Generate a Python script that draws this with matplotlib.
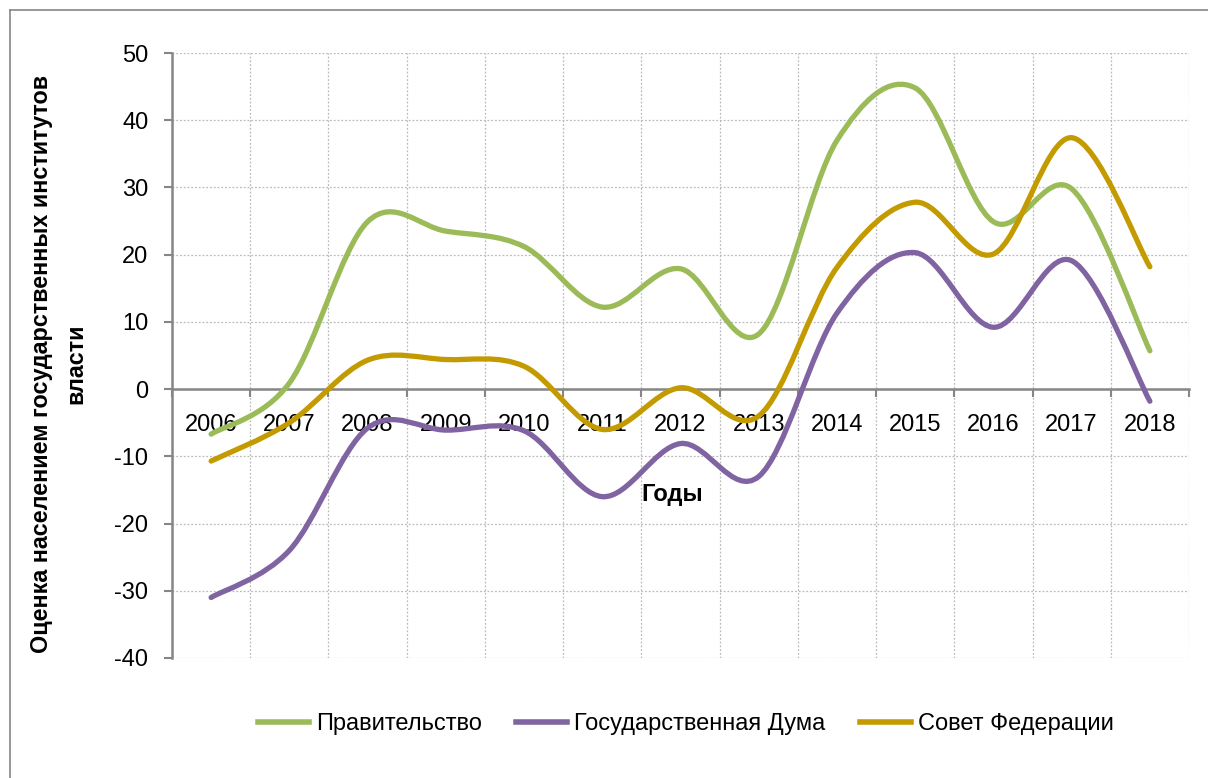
import numpy as np
import matplotlib
matplotlib.use('Agg')
import matplotlib.pyplot as plt
from matplotlib.path import Path
from matplotlib.patches import PathPatch
from matplotlib.lines import Line2D

plt.rcParams['font.family'] = ['Liberation Sans', 'DejaVu Sans']
plt.rcParams['axes.unicode_minus'] = False

years = ['2006', '2007', '2008', '2009', '2010', '2011', '2012',
         '2013', '2014', '2015', '2016', '2017', '2018']
government = [-6.7, 0.9, 24.9, 23.5, 21.2, 12.2, 17.9, 8.2, 37.0, 44.8, 24.9, 29.8, 5.7]
duma = [-31.0, -24.0, -5.8, -6.1, -6.2, -16.0, -8.1, -13.0, 11.3, 20.3, 9.2, 19.1, -1.8]
federation = [-10.7, -5.0, 4.3, 4.4, 3.4, -6.0, 0.2, -4.0, 18.1, 27.8, 20.1, 37.4, 18.2]

names = ['Правительство', 'Государственная Дума', 'Совет Федерации']
colors = ['#9BBB59', '#8064A2', '#C39A00']


def smooth_path(xs, ys):
    # excel-like smoothing: catmull-rom turned into bezier segments
    pts = np.column_stack([xs, ys]).astype(float)
    ext = np.vstack([pts[0], pts, pts[-1]])
    verts = [pts[0]]
    codes = [Path.MOVETO]
    for i in range(len(pts) - 1):
        p0, p1, p2, p3 = ext[i], ext[i + 1], ext[i + 2], ext[i + 3]
        verts += [p1 + (p2 - p0) / 6, p2 - (p3 - p1) / 6, p2]
        codes += [Path.CURVE4] * 3
    return Path(verts, codes)


fig = plt.figure(figsize=(12.08, 7.78), dpi=100)
ax = fig.add_axes([172 / 1208, 1 - 658 / 778, 1017 / 1208, 605 / 778])

x = np.arange(len(years))
for vals, c in zip([government, duma, federation], colors):
    patch = PathPatch(smooth_path(x, vals), fill=False, edgecolor=c, lw=3.8,
                      capstyle='round', joinstyle='round', zorder=3)
    ax.add_patch(patch)

ax.set_xlim(-0.5, len(years) - 0.5)
ax.set_ylim(-40, 50)
ax.set_yticks(np.arange(-40, 51, 10))
ax.set_xticks(np.arange(-0.5, len(years), 1.0))
ax.set_xticklabels([])
ax.set_xticks(x, minor=True)
ax.set_xticklabels(years, minor=True)
ax.tick_params(axis='x', which='minor', length=0, pad=18, labelsize=17)
ax.tick_params(axis='x', which='major', length=6, width=1.5, color='#868686', direction='out')
ax.tick_params(axis='y', length=6, width=1.5, color='#868686', labelsize=17, pad=11)

ax.grid(True, which='major', color='#BBBBBB', ls=(0, (1.5, 1.5)), lw=0.9)
ax.set_axisbelow(True)

ax.spines['bottom'].set_position(('data', 0))
ax.spines['bottom'].set_color('#868686')
ax.spines['bottom'].set_linewidth(1.8)
ax.spines['left'].set_color('#868686')
ax.spines['left'].set_linewidth(1.8)
ax.spines['top'].set_visible(False)
ax.spines['right'].set_visible(False)

ax.text(5.9, -15.7, 'Годы', fontsize=17, fontweight='bold', ha='center', va='center')

fig.text(42 / 1208, 1 - 364 / 778, 'Оценка населением государственных институтов',
         rotation=90, fontsize=16.8, fontweight='bold', ha='center', va='center')
fig.text(76 / 1208, 1 - 364 / 778, 'власти',
         rotation=90, fontsize=16.8, fontweight='bold', ha='center', va='center')

handles = [Line2D([], [], color=c, lw=4) for c in colors]
fig.legend(handles, names, loc='center', bbox_to_anchor=(686 / 1208, 1 - 724 / 778),
           ncol=3, frameon=False, fontsize=17, handlelength=2.15, handletextpad=0.3,
           columnspacing=1.45)

fig.add_artist(Line2D([10 / 1208, 10 / 1208], [0, 1 - 10 / 778], color='#868686', lw=1.2))
fig.add_artist(Line2D([10 / 1208, 1], [1 - 10 / 778, 1 - 10 / 778], color='#868686', lw=1.2))

fig.savefig('out.png', dpi=100)
